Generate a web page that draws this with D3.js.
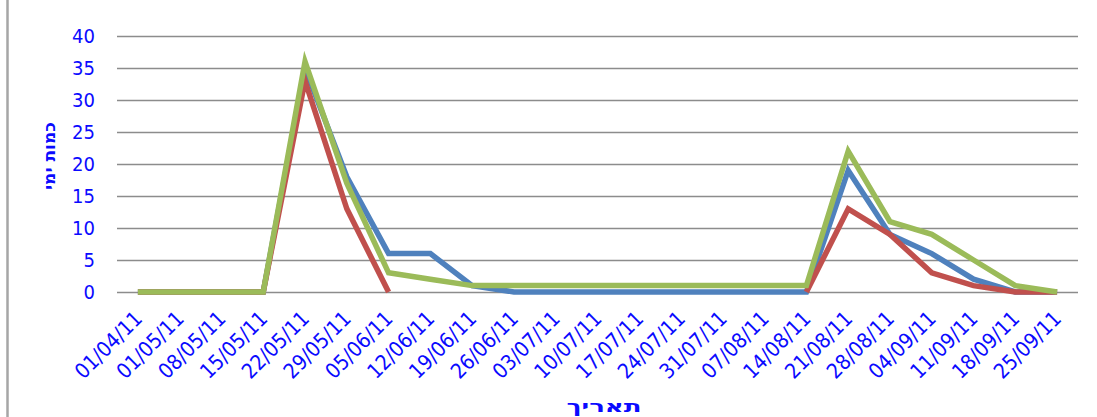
<!DOCTYPE html>
<html>
<head>
<meta charset="utf-8">
<script src="https://cdn.jsdelivr.net/npm/d3@7"></script>
<style>
  html, body { margin: 0; padding: 0; background: #fff; }
  svg { display: block; }
  .lbl { font-family: 'DejaVu Sans Condensed', 'DejaVu Sans', sans-serif; font-stretch: condensed; fill: #0a0aff; }
</style>
</head>
<body>
<svg id="chart" width="1097" height="417"></svg>
<script>
// Weekly dates (dd/mm/yy)
const dates = ["01/04/11","01/05/11","08/05/11","15/05/11","22/05/11","29/05/11","05/06/11",
  "12/06/11","19/06/11","26/06/11","03/07/11","10/07/11","17/07/11","24/07/11","31/07/11",
  "07/08/11","14/08/11","21/08/11","28/08/11","04/09/11","11/09/11","18/09/11","25/09/11"];

// Three series of day counts; null = no value recorded
const seriesBlue  = [0,0,0,0,35,18,6,6,1,0,0,0,0,0,0,0,0,19,9,6,2,0,0];
const seriesRed   = [0,0,0,0,33,13,0,null,null,null,null,null,null,null,null,null,0,13,9,3,1,0,0];
const seriesGreen = [0,0,0,0,36,17,3,2,1,1,1,1,1,1,1,1,1,22,11,9,5,1,0];

const yTicks = [0,5,10,15,20,25,30,35,40];
const yTitle = "כמות ימי";
const xTitle = "תאריך";

const svg = d3.select("#chart");
const plotLeft = 117, plotRight = 1078, plotTop = 36, plotBottom = 292;

const x = d3.scalePoint().domain(dates).range([plotLeft, plotRight]).padding(0.5);
const y = d3.scaleLinear().domain([0, 40]).range([plotBottom, plotTop]);

// chart frame edge on the left
svg.append("line").attr("x1", 7.5).attr("x2", 7.5).attr("y1", 0).attr("y2", 417)
  .attr("stroke", "#a6a6a6").attr("stroke-width", 2.5);

// y axis with full-width gridlines
const yAxis = svg.append("g").attr("transform", `translate(${plotLeft},0)`)
  .call(d3.axisLeft(y).tickValues(yTicks).tickSize(-(plotRight - plotLeft)).tickPadding(22));
yAxis.select(".domain").remove();
yAxis.selectAll(".tick line").attr("stroke", "#8c8c8c").attr("stroke-width", 1.6);
yAxis.selectAll(".tick text").attr("class", "lbl").attr("font-size", 20);

// x axis with rotated date labels
const xAxis = svg.append("g").attr("transform", `translate(0,${plotBottom})`)
  .call(d3.axisBottom(x).tickSize(0).tickPadding(0));
xAxis.select(".domain").remove();
xAxis.selectAll(".tick text")
  .attr("class", "lbl").attr("font-size", 21)
  .attr("text-anchor", "end")
  .attr("dy", 0).attr("y", 0)
  .attr("transform", "translate(5,28) rotate(-45)");

// series lines
const line = d3.line()
  .defined(d => d != null)
  .x((d, i) => x(dates[i]))
  .y(d => y(d));

const series = [
  { values: seriesBlue,  color: "#4f81bd" },
  { values: seriesRed,   color: "#c0504d" },
  { values: seriesGreen, color: "#9bbb59" }
];
svg.append("g").selectAll("path").data(series).join("path")
  .attr("d", s => line(s.values))
  .attr("fill", "none")
  .attr("stroke", s => s.color)
  .attr("stroke-width", 5.5)
  .attr("stroke-linejoin", "miter");

// axis titles
svg.append("text").attr("class", "lbl")
  .attr("transform", "translate(55,156) rotate(-90)")
  .attr("text-anchor", "middle")
  .attr("font-size", 16).attr("font-weight", "bold")
  .attr("direction", "rtl")
  .attr("textLength", 68).attr("lengthAdjust", "spacingAndGlyphs")
  .text(yTitle);

svg.append("text").attr("class", "lbl")
  .attr("x", 604).attr("y", 412)
  .attr("text-anchor", "middle")
  .attr("font-size", 16).attr("font-weight", "bold")
  .attr("direction", "rtl")
  .attr("textLength", 75).attr("lengthAdjust", "spacingAndGlyphs")
  .text(xTitle);
</script>
</body>
</html>
